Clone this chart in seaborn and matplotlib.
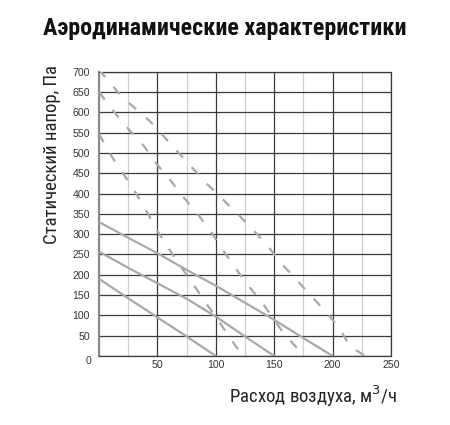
import os
import pandas as pd
import seaborn as sns
import matplotlib.pyplot as plt
from matplotlib import font_manager
from matplotlib.ticker import MultipleLocator

# Airflow [m3/h] vs static pressure [Pa]
solid_1_x = [0, 25, 50, 75, 100]
solid_1_y = [190, 142, 95, 48, 0]
solid_2_x = [0, 25, 50, 75, 100, 125, 150]
solid_2_y = [257, 217, 179, 141, 97, 48, 0]
solid_3_x = [0, 25, 50, 75, 100, 125, 150, 175, 200]
solid_3_y = [330, 291, 253, 212, 173, 131, 89, 44, 0]
dash_1_x = [0, 10, 20, 30, 40, 50, 60, 70, 80, 90, 100, 110, 123]
dash_1_y = [547, 495, 452, 408, 360, 308, 263, 220, 180, 136, 97, 53, 0]
dash_2_x = [0, 14, 26, 39, 49, 61, 72, 84, 95, 104, 115, 126, 138, 148, 158, 171, 174]
dash_2_y = [650, 597, 556, 515, 474, 433, 392, 351, 310, 269, 224, 179, 138, 97, 56, 15, 0]
dash_3_x = [0, 19, 44, 66, 92, 121, 132, 145, 156, 168, 181, 194, 205, 215, 228]
dash_3_y = [705, 640, 577, 507, 425, 343, 310, 269, 228, 191, 150, 109, 72, 23, 0]

x_ticks = [50, 100, 150, 200, 250]
y_ticks = list(range(0, 701, 50))

series = {
    "s1": (solid_1_x, solid_1_y, "solid"),
    "s2": (solid_2_x, solid_2_y, "solid"),
    "s3": (solid_3_x, solid_3_y, "solid"),
    "d1": (dash_1_x, dash_1_y, "dashed"),
    "d2": (dash_2_x, dash_2_y, "dashed"),
    "d3": (dash_3_x, dash_3_y, "dashed"),
}

# look for a condensed face with cyrillic, fall back to DejaVu
font_files = {os.path.basename(f): f for f in font_manager.findSystemFonts()}


def pick(candidates):
    for c in candidates:
        if c in font_files:
            return font_files[c]
    return None


bold_file = pick(["RobotoCondensed-Bold.ttf", "PTSansNarrow-Bold.ttf",
                  "PT_Sans-Narrow-Web-Bold.ttf", "FiraSansCondensed-Bold.ttf",
                  "LiberationSansNarrow-Bold.ttf", "DejaVuSansCondensed-Bold.ttf"])
reg_file = pick(["RobotoCondensed-Regular.ttf", "PTSansNarrow-Regular.ttf",
                 "PT_Sans-Narrow-Web-Regular.ttf", "FiraSansCondensed-Regular.ttf",
                 "LiberationSansNarrow-Regular.ttf", "DejaVuSansCondensed.ttf"])

sns.set_style("white")
plt.rcParams["font.family"] = ["Liberation Sans", "DejaVu Sans"]

if bold_file:
    title_font = font_manager.FontProperties(fname=bold_file, size=17.3)
else:
    title_font = font_manager.FontProperties(family="DejaVu Sans", weight="bold", size=13)
if reg_file:
    label_font = font_manager.FontProperties(fname=reg_file, size=13.5)
    font_manager.fontManager.addfont(reg_file)
    reg_name = font_manager.FontProperties(fname=reg_file).get_name()
    plt.rcParams["mathtext.fontset"] = "custom"
    plt.rcParams["mathtext.rm"] = reg_name
    plt.rcParams["mathtext.it"] = reg_name
else:
    label_font = font_manager.FontProperties(family="DejaVu Sans", size=11)

fig = plt.figure(figsize=(4.5, 4.25), dpi=100)
ax = fig.add_axes([0.22, 0.1624, 0.649, 0.6689])

line_color = "#a8a8a8"
for name, (xs, ys, kind) in series.items():
    df = pd.DataFrame({"x": xs, "y": ys})
    ls = "-" if kind == "solid" else (0, (4.3, 5.8))
    sns.lineplot(data=df, x="x", y="y", ax=ax, sort=False, estimator=None,
                 color=line_color, lw=1.6, linestyle=ls, zorder=3)

ax.set_xlim(0, 250)
ax.set_ylim(0, 700)
ax.xaxis.set_minor_locator(MultipleLocator(25))
ax.set_xticks(x_ticks)
ax.set_yticks(y_ticks)
ax.set_yticklabels([str(v) if v else "" for v in y_ticks])
ax.grid(which="major", color="#3a3a3a", lw=0.9, zorder=1)
ax.grid(which="minor", axis="x", color="#d0d0d0", lw=0.9, zorder=1)
ax.tick_params(which="both", length=0, labelsize=7.6, labelcolor="#333333")
ax.tick_params(axis="x", pad=3)
ax.tick_params(axis="y", pad=6.5)
ax.set_xlabel("")
ax.set_ylabel("")
for side in ["top", "right", "bottom"]:
    ax.spines[side].set_color("#3a3a3a")
    ax.spines[side].set_linewidth(0.9)
ax.spines["left"].set_color("#8a8a8a")
ax.spines["left"].set_linewidth(1.6)

fig.text(88 / 450, 1 - 361 / 425, "0", fontsize=7.6, color="#333333",
         ha="center", va="center")

fig.text(225 / 450, 1 - 29 / 425, "Аэродинамические характеристики",
         fontproperties=title_font, color="#111111", ha="center", va="center")
fig.text(52 / 450, 1 - 65 / 425, "Статический напор, Па", rotation=90,
         fontproperties=label_font, color="#222222", ha="center", va="top")
fig.text(397 / 450, 1 - 403 / 425, "Расход воздуха, м$^3$/ч",
         fontproperties=label_font, color="#222222", ha="right", va="baseline")

fig.savefig("out.png", dpi=100)
